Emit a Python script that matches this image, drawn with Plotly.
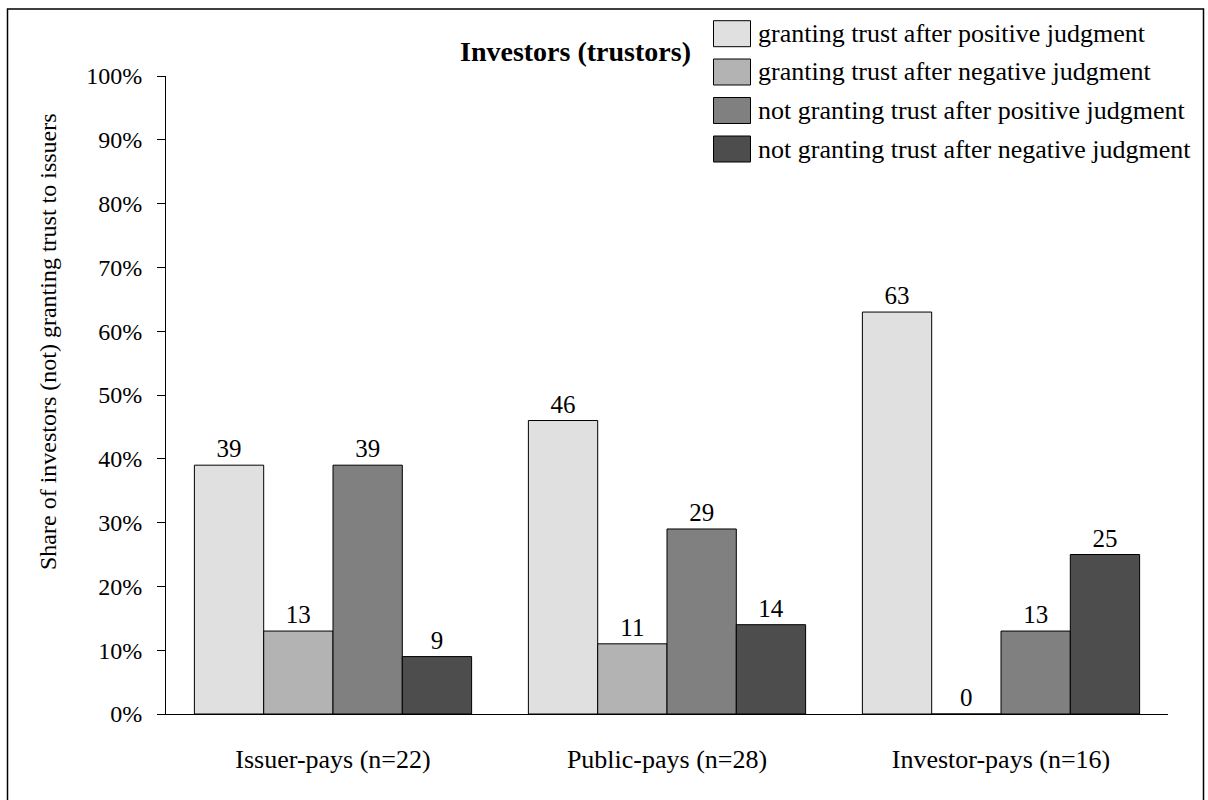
import plotly.graph_objects as go

# Payment models on the x axis
categories = ["Issuer-pays (n=22)", "Public-pays (n=28)", "Investor-pays (n=16)"]

# Share of investors (%) per decision type
series_names = [
    "granting trust after positive judgment",
    "granting trust after negative judgment",
    "not granting trust after positive judgment",
    "not granting trust after negative judgment",
]
grant_positive = [39, 46, 63]
grant_negative = [13, 11, 0]
nogrant_positive = [39, 29, 13]
nogrant_negative = [9, 14, 25]

series_values = [grant_positive, grant_negative, nogrant_positive, nogrant_negative]
series_colors = ["#e0e0e0", "#b3b3b3", "#808080", "#4d4d4d"]

FONT = "Liberation Serif"
W, H = 1208, 800
ML, MR, MT, MB = 166, 40, 76, 86
PW, PH = W - ML - MR, H - MT - MB


def px_x(x):
    return (x - ML) / PW


def px_y(y):
    return (H - MB - y) / PH


fig = go.Figure()
for name, vals, col in zip(series_names, series_values, series_colors):
    fig.add_trace(go.Bar(
        x=categories, y=vals, name=name,
        marker=dict(color=col, line=dict(color="black", width=1)),
        text=[str(v) for v in vals], textposition="outside",
        textfont=dict(family=FONT, size=25, color="black"),
        cliponaxis=False, showlegend=False,
    ))

shapes = [
    # outer frame
    dict(type="rect", xref="paper", yref="paper",
         x0=px_x(7.5), x1=px_x(1203.5), y0=px_y(806), y1=px_y(9),
         line=dict(color="black", width=1.5), fillcolor="rgba(0,0,0,0)"),
]
annotations = [
    dict(text="<b>Investors (trustors)</b>", xref="paper", yref="paper",
         x=px_x(693), y=px_y(51), xanchor="right", yanchor="middle",
         showarrow=False, font=dict(family=FONT, size=28, color="black")),
    dict(text="Share of investors (not) granting trust to issuers",
         xref="paper", yref="paper", x=px_x(48), y=px_y(342),
         xanchor="center", yanchor="middle", textangle=-90,
         showarrow=False, font=dict(family=FONT, size=24, color="black")),
]

# legend drawn as swatches + labels
row_y = [33.7, 72, 110.5, 149]
for name, col, yc in zip(series_names, series_colors, row_y):
    shapes.append(dict(type="rect", xref="paper", yref="paper",
                       x0=px_x(713.5), x1=px_x(750.5), y0=px_y(yc + 13), y1=px_y(yc - 13),
                       line=dict(color="black", width=1), fillcolor=col))
    annotations.append(dict(text=name, xref="paper", yref="paper",
                            x=px_x(756), y=px_y(yc), xanchor="left", yanchor="middle",
                            showarrow=False, font=dict(family=FONT, size=26, color="black")))

fig.update_layout(
    width=W, height=H,
    margin=dict(l=ML, r=MR, t=MT, b=MB),
    paper_bgcolor="white", plot_bgcolor="white",
    barmode="group", bargap=0.17, bargroupgap=0,
    font=dict(family=FONT, size=24, color="black"),
    shapes=shapes, annotations=annotations,
    showlegend=False,
)
fig.update_xaxes(
    showline=True, linecolor="black", linewidth=1,
    ticks="outside", ticklen=22, tickcolor="rgba(0,0,0,0)",
    tickfont=dict(family=FONT, size=26, color="black"),
    showgrid=False,
)
fig.update_yaxes(
    range=[0, 100], dtick=10, ticksuffix="%",
    showline=True, linecolor="black", linewidth=1,
    ticks="outside", ticklen=8, tickcolor="black",
    ticklabelstandoff=10,
    tickfont=dict(family=FONT, size=24, color="black"),
    showgrid=False, zeroline=False,
)

fig.write_html("out.html")
